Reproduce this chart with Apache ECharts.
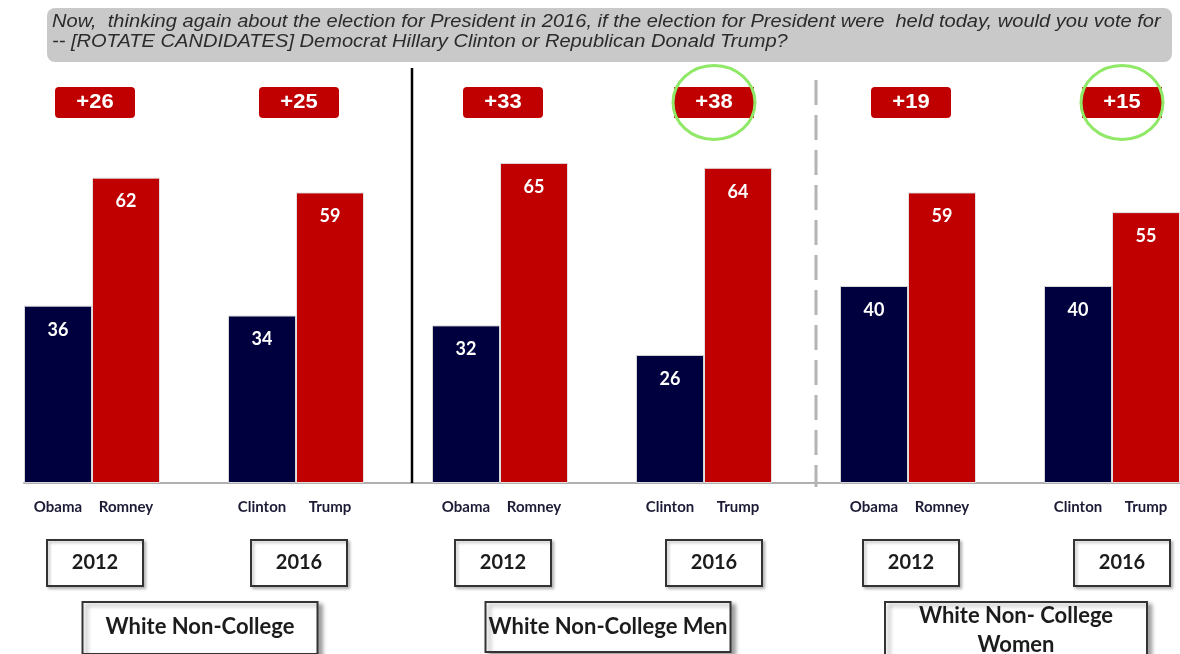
<!DOCTYPE html>
<html>
<head>
<meta charset="utf-8">
<script src="https://cdn.jsdelivr.net/npm/echarts@6/dist/echarts.min.js"></script>
<style>
  html, body { margin: 0; padding: 0; background: #fff; }
  #chart { width: 1180px; height: 654px; }
</style>
</head>
<body>
<div id="chart"></div>
<script>
const question = "Now,  thinking again about the election for President in 2016, if the election for President were  held today, would you vote for\n-- [ROTATE CANDIDATES] Democrat Hillary Clinton or Republican Donald Trump?";
const groups = ["White Non-College", "White Non-College Men", "White Non- College\nWomen"];
const years = ["2012", "2016", "2012", "2016", "2012", "2016"];
const demNames = ["Obama", "Clinton", "Obama", "Clinton", "Obama", "Clinton"];
const repNames = ["Romney", "Trump", "Romney", "Trump", "Romney", "Trump"];
const demShare = [36, 34, 32, 26, 40, 40];
const repShare = [62, 59, 65, 64, 59, 55];
const margins = ["+26", "+25", "+33", "+38", "+19", "+15"];
const circled = [false, false, false, true, false, true];

const BLUE = "#00003f";
const RED = "#c00000";
const yMax = 80;
const groupBoxWidths = [235, 245, 262];
const groupBoxHeights = [52, 50, 62];

// every pair takes 3 slots: dem bar, rep bar, empty gap (none after the last)
let categories = [];
let demData = [];
let repData = [];
let pairSlots = [];
years.forEach((y, i) => {
  pairSlots.push(categories.length);
  categories.push(demNames[i], repNames[i]);
  demData.push(demShare[i], "-");
  repData.push("-", repShare[i]);
  if (i < years.length - 1) {
    categories.push("");
    demData.push("-");
    repData.push("-");
  }
});

let pairItems = pairSlots.map((s, i) => [s, 0, i]);
let groupItems = groups.map((g, i) => [pairSlots[i * 2], pairSlots[i * 2 + 1] + 1, i]);

const chart = echarts.init(document.getElementById("chart"));

const barLabel = {
  show: true,
  position: "insideTop",
  distance: 15,
  color: "#fff",
  fontSize: 18,
  fontWeight: "bold",
  fontFamily: "Lato, sans-serif",
};

function renderPair(params, api) {
  const slot = api.value(0);
  const i = api.value(2);
  const left = api.coord([slot, 0]);
  const right = api.coord([slot + 1, 0]);
  const top = api.coord([slot, yMax])[1];
  const base = left[1];
  let cx = (left[0] + right[0]) / 2 + 3;
  if (circled[i]) cx += 7;
  const by = top + 13.5;
  const children = [
    {
      type: "rect",
      shape: { x: cx - 40, y: by - 15.5, width: 80, height: 31, r: circled[i] ? 0 : 4 },
      style: { fill: RED },
    },
    {
      type: "text",
      x: cx,
      y: by,
      scaleX: 1.1,
      style: {
        text: margins[i], x: 0, y: 0, align: "center", verticalAlign: "middle",
        fill: "#fff", font: "bold 20px 'Liberation Sans', Arial, sans-serif",
      },
    },
  ];
  if (circled[i]) {
    children.push({
      type: "ellipse",
      shape: { cx: cx, cy: by, rx: 41, ry: 37 },
      style: { fill: "none", stroke: "#8fe866", lineWidth: 3 },
    });
  }
  // year box under the pair
  const yy = base + 80;
  children.push(
    {
      type: "rect",
      shape: { x: cx - 48, y: yy - 23, width: 96, height: 46 },
      style: {
        fill: "#fff", stroke: "#333", lineWidth: 2,
        shadowBlur: 3, shadowOffsetX: 2, shadowOffsetY: 2, shadowColor: "rgba(0,0,0,0.25)",
      },
    },
    {
      type: "text",
      style: {
        text: years[i], x: cx, y: yy, align: "center", verticalAlign: "middle",
        fill: "#1c1c1c", font: "bold 20px Lato, sans-serif",
      },
    }
  );
  return { type: "group", children: children };
}

function renderGroup(params, api) {
  const first = api.value(0);
  const last = api.value(1);
  const g = api.value(2);
  const a = api.coord([first, 0]);
  const b = api.coord([last, 0]);
  const top = api.coord([first, yMax])[1];
  const base = a[1];
  const cx = (a[0] + b[0]) / 2 + 6;
  const w = groupBoxWidths[g];
  const h = groupBoxHeights[g];
  const boxTop = base + 119;
  const children = [
    {
      type: "rect",
      shape: { x: cx - w / 2, y: boxTop, width: w, height: h },
      style: {
        fill: "#fff", stroke: "#333", lineWidth: 2,
        shadowBlur: 4, shadowOffsetX: 4, shadowOffsetY: 3, shadowColor: "rgba(0,0,0,0.35)",
      },
    },
    {
      type: "text",
      style: {
        text: groups[g], x: cx, y: boxTop + (g === 2 ? 28 : 25), align: "center", verticalAlign: "middle",
        fill: "#1c1c1c", font: "bold 22px Lato, sans-serif", lineHeight: 29,
      },
    },
  ];
  // separator before groups 2 and 3, in the gap slot
  if (g > 0) {
    const sx = api.coord([first - 1, 0])[0] + (g === 1 ? 14 : 10);
    children.push({
      type: "line",
      shape: { x1: sx, y1: g === 1 ? top - 21 : top - 9, x2: sx, y2: g === 1 ? base : base + 4 },
      style: g === 1
        ? { stroke: "#000", lineWidth: 2.5 }
        : { stroke: "#b3b3b3", lineWidth: 3, lineDash: [25, 10] },
    });
  }
  return { type: "group", children: children };
}

const option = {
  animation: false,
  backgroundColor: "#fff",
  graphic: [
    {
      type: "rect",
      left: 47,
      top: 8,
      shape: { width: 1125, height: 54, r: 8 },
      style: { fill: "#c9c9c9" },
    },
    {
      type: "text",
      x: 52,
      y: 12,
      scaleX: 1.115,
      style: {
        text: question,
        fill: "#2b2b2b",
        font: "italic 18px 'Liberation Sans', Arial, sans-serif",
        lineHeight: 20,
      },
    },
  ],
  grid: { left: 24, top: 89, width: 1161, height: 394 },
  xAxis: {
    type: "category",
    data: categories,
    axisLine: { lineStyle: { color: "#b0b0b0", width: 2 } },
    axisTick: { interval: 0, length: 6, lineStyle: { color: "#b0b0b0", width: 2 } },
    axisLabel: {
      interval: 0,
      margin: 17,
      color: "#1b1b36",
      fontSize: 15,
      fontWeight: "bold",
      fontFamily: "Lato, sans-serif",
    },
  },
  yAxis: { type: "value", min: 0, max: yMax, show: false },
  series: [
    {
      name: "Democrat",
      type: "bar",
      stack: "vote",
      barWidth: "100%",
      data: demData,
      itemStyle: { color: BLUE, borderColor: "#d6d6d6", borderWidth: 1 },
      label: barLabel,
    },
    {
      name: "Republican",
      type: "bar",
      stack: "vote",
      barWidth: "100%",
      data: repData,
      itemStyle: { color: RED, borderColor: "#e0e0e0", borderWidth: 1 },
      label: barLabel,
    },
    {
      type: "custom",
      renderItem: renderPair,
      data: pairItems,
      z: 5,
      silent: true,
    },
    {
      type: "custom",
      renderItem: renderGroup,
      data: groupItems,
      z: 5,
      silent: true,
    },
  ],
};

chart.setOption(option);
</script>
</body>
</html>
